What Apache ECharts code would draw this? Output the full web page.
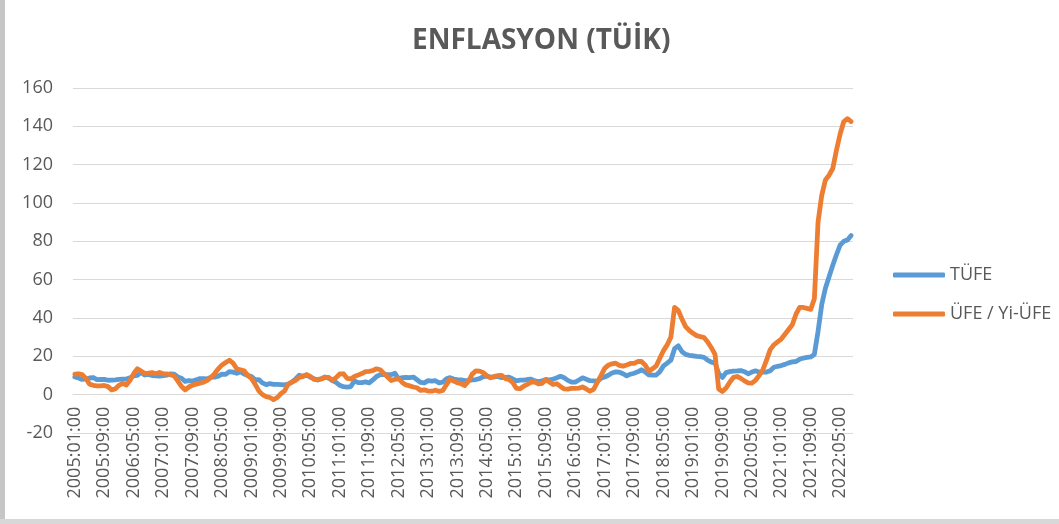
<!DOCTYPE html>
<html>
<head>
<meta charset="utf-8">
<script src="https://cdn.jsdelivr.net/npm/echarts@6/dist/echarts.min.js"></script>
<style>
html,body{margin:0;padding:0;background:#fff;}
#chart{position:absolute;left:0;top:0;width:1059px;height:524px;}
#bl{position:absolute;left:0;top:0;width:5px;height:524px;background:#c6c6c6;}
#bb{position:absolute;left:0;top:519px;width:1059px;height:5px;background:#d8d8d8;}
</style>
</head>
<body>
<div id="chart"></div>
<div id="bl"></div>
<div id="bb"></div>
<script>
// Monthly categories 2005:01 ... 2022:08
const startYear = 2005, endYear = 2022, endMonth = 8;
const categories = [];
for (let y = startYear; y <= endYear; y++) {
  for (let m = 1; m <= 12; m++) {
    if (y === endYear && m > endMonth) break;
    categories.push(y + ':' + (m < 10 ? '0' + m : m) + ':00');
  }
}

const seriesNames = ['TÜFE', 'ÜFE / Yi-ÜFE'];

// TÜFE annual %
const tufe = [
  9.24, 8.69, 7.94, 8.18, 8.70, 8.95, 7.82, 7.91, 7.99, 7.52, 7.61, 7.72,
  7.93, 8.15, 8.16, 8.83, 9.86, 10.12, 11.69, 10.26, 10.55, 9.98, 9.86, 9.65,
  9.93, 10.16, 10.86, 10.72, 9.23, 8.60, 6.90, 7.39, 7.12, 7.70, 8.40, 8.39,
  8.17, 9.10, 9.15, 9.66, 10.74, 10.61, 12.06, 11.77, 11.13, 11.99, 10.76, 10.06,
  9.50, 7.73, 7.89, 6.13, 5.24, 5.73, 5.39, 5.33, 5.27, 5.08, 5.53, 6.53,
  8.19, 10.13, 9.56, 10.19, 9.10, 8.37, 7.58, 8.33, 9.24, 8.62, 7.29, 6.40,
  4.90, 4.16, 3.99, 4.26, 7.17, 6.24, 6.31, 6.65, 6.15, 7.66, 9.48, 10.45,
  10.61, 10.43, 10.43, 11.14, 8.28, 8.87, 9.07, 8.88, 9.19, 7.80, 6.37, 6.16,
  7.31, 7.03, 7.29, 6.13, 6.51, 8.30, 8.88, 8.17, 7.88, 7.71, 7.32, 7.40,
  7.75, 7.89, 8.39, 9.38, 9.66, 9.16, 9.32, 9.54, 8.86, 8.96, 9.15, 8.17,
  7.24, 7.55, 7.61, 7.91, 8.09, 7.20, 6.81, 7.14, 7.95, 7.58, 8.10, 8.81,
  9.58, 8.78, 7.46, 6.57, 6.58, 7.64, 8.79, 8.05, 7.28, 7.16, 7.00, 8.53,
  9.22, 10.13, 11.29, 11.87, 11.72, 10.90, 9.79, 10.68, 11.20, 11.90, 12.98, 11.92,
  10.35, 10.26, 10.23, 12.0, 15.0, 16.5, 18.0, 24.0, 25.5, 22.5, 21.0, 20.5,
  20.3, 20.0, 19.8, 19.5, 18.0, 17.0, 16.5, 11.0, 9.0, 11.5, 12.0, 12.3,
  12.4, 12.6, 12.0, 10.9, 11.8, 12.4, 11.8, 11.8, 11.8, 12.5, 14.3, 14.8,
  15.2, 15.8, 16.6, 17.1, 17.3, 18.5, 19.1, 19.4, 19.7, 21.0, 33.0, 47.0,
  55.5, 61.5, 67.5, 73.0, 78.0, 80.0, 80.7, 83.0
];

// ÜFE / Yİ-ÜFE annual %
const ufe = [
  10.7, 10.9, 10.5, 8.5, 5.5, 4.9, 4.6, 4.6, 4.8, 4.2, 2.5, 3.0,
  4.9, 5.9, 5.0, 7.5, 11.0, 13.5, 12.3, 11.0, 11.2, 11.5, 10.9, 11.6,
  10.9, 10.8, 10.4, 9.8, 7.1, 4.3, 2.5, 4.0, 5.0, 5.5, 6.0, 6.5,
  7.5, 9.0, 11.0, 13.5, 15.5, 16.8, 18.0, 16.5, 13.5, 13.0, 12.5, 10.0,
  8.5, 5.5, 2.0, 0.0, -1.0, -1.5, -2.6, -1.5, 0.5, 2.0, 5.5, 6.5,
  7.5, 9.0, 9.5, 10.5, 9.5, 8.0, 8.0, 8.2, 9.0, 9.0, 7.5, 8.9,
  10.8, 10.9, 8.5, 8.2, 9.5, 10.2, 11.0, 12.0, 12.2, 12.6, 13.5, 13.0,
  11.1, 9.2, 7.4, 8.0, 8.4, 6.4, 5.1, 4.6, 4.0, 3.6, 2.2, 2.5,
  1.9, 1.8, 2.3, 1.7, 2.2, 5.2, 8.1, 7.1, 6.2, 5.7, 4.8, 7.0,
  10.7, 12.4, 12.3, 11.5, 9.8, 8.8, 9.5, 9.9, 10.1, 8.4, 7.9, 6.4,
  3.3, 3.1, 4.4, 5.4, 6.5, 6.7, 5.6, 5.9, 7.7, 6.6, 5.3, 5.7,
  4.3, 3.0, 2.9, 3.3, 3.3, 3.4, 4.0, 3.0, 1.8, 2.8, 6.4, 9.9,
  13.7, 15.4, 16.1, 16.4, 15.3, 14.9, 15.5, 16.3, 16.3, 17.3, 17.3, 15.5,
  12.3, 13.5, 15.0, 19.0, 23.0, 26.0, 30.0, 45.5, 44.0, 39.5, 35.5, 33.5,
  32.0, 30.8, 30.3, 29.8, 27.5, 24.5, 21.0, 3.0, 1.7, 3.5, 6.5, 9.0,
  9.5, 8.5, 7.2, 6.2, 6.0, 7.5, 10.0, 13.0, 18.0, 23.5, 26.0, 27.5,
  29.0, 31.5, 34.0, 36.5, 42.0, 45.5, 45.5, 45.0, 44.5, 50.0, 90.0, 104.0,
  112.0, 114.5, 118.0, 127.5, 136.0, 142.5, 144.0, 142.5
];

const yMin = -20, yMax = 160, yStep = 20;
const FONT = '"Open Sans", "DejaVu Sans", sans-serif';
const GRAY = '#595959';
const GL = 73, GR = 206, GT = 88, GB = 91;
const PLOT_H = 524 - GT - GB;
const zeroY = GT + PLOT_H * (yMax - 0) / (yMax - yMin);

const chart = echarts.init(document.getElementById('chart'), null, {renderer: 'canvas'});
chart.setOption({
  animation: false,
  backgroundColor: '#ffffff',
  title: {
    text: 'ENFLASYON (TÜİK)',
    left: 407, top: 22,
    textStyle: {fontFamily: FONT, fontSize: 28, fontWeight: 'bold', color: GRAY}
  },
  legend: {
    orient: 'vertical',
    left: 888, top: 259,
    itemWidth: 52, itemHeight: 5, itemGap: 17,
    icon: 'roundRect',
    textStyle: {fontFamily: FONT, fontSize: 18, color: GRAY, lineHeight: 22},
    data: seriesNames
  },
  grid: [
    {left: GL, right: GR, top: GT, bottom: GB, containLabel: false, outerBoundsMode: 'none'},
    {left: GL, right: GR, top: zeroY - 1, height: 1, containLabel: false, outerBoundsMode: 'none'}
  ],
  xAxis: [
    {
      type: 'category', gridIndex: 0,
      data: categories,
      boundaryGap: true,
      axisLine: {onZero: true, lineStyle: {color: '#d9d9d9', width: 1}},
      axisTick: {show: false},
      axisLabel: {show: false}
    },
    {
      type: 'category', gridIndex: 1,
      data: categories,
      boundaryGap: true,
      position: 'bottom',
      axisLine: {show: false},
      axisTick: {show: false},
      axisLabel: {interval: 7, rotate: 90, margin: 12, fontFamily: FONT, fontSize: 18, color: GRAY}
    }
  ],
  yAxis: [
    {
      type: 'value', gridIndex: 0,
      min: yMin, max: yMax, interval: yStep,
      axisLine: {show: false},
      axisTick: {show: false},
      splitLine: {lineStyle: {color: '#d9d9d9', width: 1}},
      axisLabel: {margin: 20, fontFamily: FONT, fontSize: 18, color: GRAY}
    },
    {
      type: 'value', gridIndex: 1, show: false,
      axisLine: {show: false}, axisTick: {show: false}, axisLabel: {show: false}, splitLine: {show: false}
    }
  ],
  series: [
    {name: seriesNames[0], type: 'line', data: tufe, showSymbol: false, symbol: 'none',
     xAxisIndex: 0, yAxisIndex: 0,
     color: '#5B9BD5', z: 2,
     lineStyle: {width: 4.8, color: '#5B9BD5', cap: 'round', join: 'round'}},
    {name: seriesNames[1], type: 'line', data: ufe, showSymbol: false, symbol: 'none',
     xAxisIndex: 0, yAxisIndex: 0,
     color: '#ED7D31', z: 3,
     lineStyle: {width: 4.8, color: '#ED7D31', cap: 'round', join: 'round'}}
  ]
});
</script>
</body>
</html>
